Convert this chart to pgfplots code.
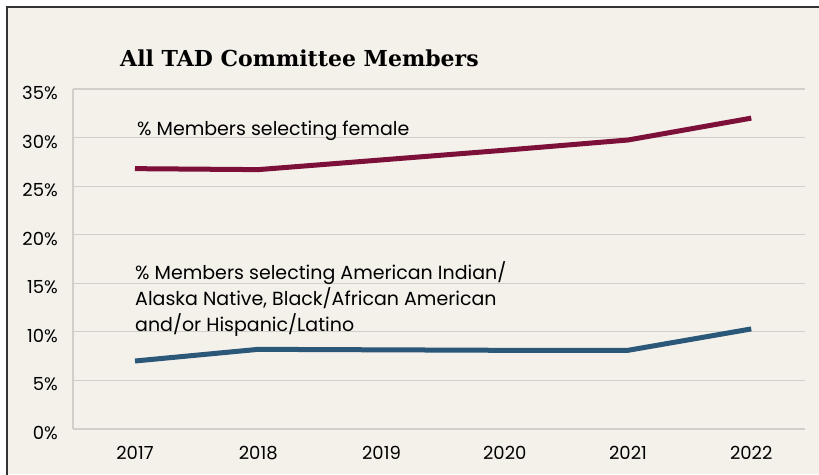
\documentclass[border=0pt]{standalone}
\usepackage{pgfplots}
\pgfplotsset{compat=1.18}
\usepackage{fontspec}
\setmainfont{Poppins}
\newfontfamily\titlefont{DejaVu Serif}
\definecolor{bg}{HTML}{F4F1EB}
\definecolor{gridc}{HTML}{D2CECA}
\definecolor{framec}{HTML}{333333}
\definecolor{maroon}{HTML}{7D1038}
\definecolor{navy}{HTML}{2B5779}
\begin{document}
\begin{tikzpicture}[x=1pt,y=1pt]
\useasboundingbox (0,0) rectangle (819,474);
\fill[white] (0,0) rectangle (819,474);
\fill[bg] (7,0) rectangle (819,467);
\draw[framec, line width=1.5pt] (7,-2) -- (7,467) -- (821,467);
\node[anchor=base west, inner sep=0pt, font=\titlefont\bfseries\fontsize{22}{26}\selectfont] at (120,407) {All TAD Committee Members};
\begin{axis}[
  at={(73pt,45pt)}, anchor=south west,
  scale only axis, width=732pt, height=340pt,
  xmin=-0.503, xmax=5.436, ymin=0, ymax=35,
  axis x line*=bottom, axis y line*=left,
  axis line style={gridc, line width=1.2pt, -},
  xtick={0,1,2,3,4,5},
  xticklabels={2017,2018,2019,2020,2021,2022},
  ytick={0,5,10,15,20,25,30,35},
  yticklabels={0\%,5\%,10\%,15\%,20\%,25\%,30\%,35\%},
  major tick length=0pt,
  ymajorgrids, grid style={gridc, line width=1.2pt},
  tick label style={font=\fontsize{18}{21}\selectfont, inner sep=0pt},
  yticklabel style={anchor=east, xshift=-15pt, yshift=-4pt},
  xticklabel style={anchor=north, yshift=-17pt},
  clip=false,
]
\addplot[maroon, line width=5pt] coordinates {(0,26.8) (1,26.7) (2,27.7) (3,28.7) (4,29.75) (5,32.0)};
\addplot[navy, line width=5pt] coordinates {(0,7.0) (1,8.2) (2,8.15) (3,8.1) (4,8.1) (5,10.3)};
\node[anchor=base west, inner sep=0pt, font=\fontsize{19}{22}\selectfont] at (axis cs:0.016,30.2) {\% Members selecting female};
\node[anchor=base west, inner sep=0pt, font=\fontsize{19}{22}\selectfont] at (axis cs:0,15.44) {\% Members selecting American Indian/};
\node[anchor=base west, inner sep=0pt, font=\fontsize{19}{22}\selectfont] at (axis cs:0,12.76) {Alaska Native, Black/African American};
\node[anchor=base west, inner sep=0pt, font=\fontsize{19}{22}\selectfont] at (axis cs:0,10.0) {and/or Hispanic/Latino};
\end{axis}
\end{tikzpicture}
\end{document}
